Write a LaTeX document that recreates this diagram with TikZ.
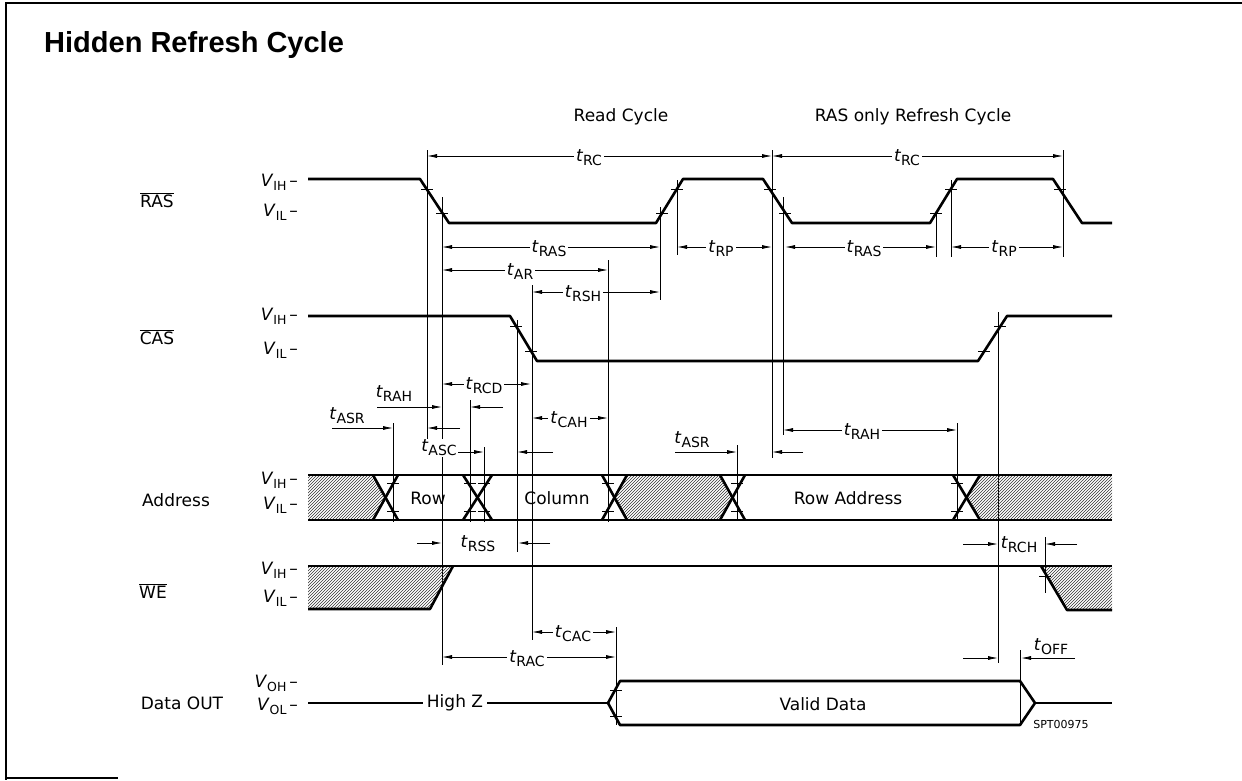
\documentclass[tikz,border=0pt]{standalone}
\usepackage{fontspec}
\setmainfont{DejaVu Sans}
\newfontfamily\titlefont{Liberation Sans}
\usetikzlibrary{arrows.meta, patterns}

% timing symbols
\newcommand{\tsub}[1]{\textit{t}\raisebox{-4pt}{\fontsize{14}{14}\selectfont #1}}
\newcommand{\vsub}[1]{\textit{V}\raisebox{-4pt}{\fontsize{12.5}{12.5}\selectfont #1}\,--}
\newcommand{\ovl}[1]{$\overline{\hbox{#1}}$}

% dimension line with label on it: y, from, to, label x, text
\newcommand{\tdim}[5]{%
  \draw[dim, <->] (#2,#1) -- (#3,#1);
  \node[tlbl] (t-#5-#4) at (#4,#1) {\tsub{#5}};
}

\tikzset{
  sig/.style={line width=2.6pt, line join=round},
  dim/.style={line width=0.8pt},
  ref/.style={line width=1pt},
  hatch/.style={pattern=north east lines, pattern color=black!80},
  lbl/.style={font=\fontsize{17}{17}\selectfont, inner sep=1pt},
  tlbl/.style={lbl, fill=white, inner sep=2pt, yshift=-2pt},
  lvl/.style={font=\fontsize{17}{17}\selectfont, anchor=east, inner sep=0pt},
}

\begin{document}
\begin{tikzpicture}[x=1pt, y=-1pt, >={Latex[length=10pt,width=4pt]}]
  \useasboundingbox (0,0) rectangle (1242,780);

  % Frame and title
  \draw[line width=1.2pt] (1242,3) -- (6,3) -- (6,780);
  \draw[line width=1.2pt] (6,778) -- (118,778);
  \node[font=\titlefont\bfseries\fontsize{29}{29}\selectfont, anchor=west, inner sep=0pt]
    (title) at (44,45) {Hidden Refresh Cycle};

  % Cycle headers
  \node[lbl] (readcyc) at (621,117) {Read Cycle};
  \node[lbl] (refcyc) at (913,117) {RAS only Refresh Cycle};

  % Signal names
  \node[lbl] (nras) at (157,200) {\ovl{RAS}};
  \node[lbl] (ncas) at (157,337) {\ovl{CAS}};
  \node[lbl] (naddr) at (176,500) {Address};
  \node[lbl] (nwe) at (153,591) {\ovl{WE}};
  \node[lbl] (ndout) at (182,703) {Data OUT};

  % Levels
  \foreach \y/\v [count=\k] in {182/IH, 212/IL, 316/IH, 350/IL, 480/IH, 505/IL,
                               570/IH, 598/IL, 683/OH, 706/OL} {
    \node[lvl] (lev\k) at (298,\y) {\vsub{\v}};
  }

  % Reference lines
  \foreach \x/\a/\b in {427/150/445, 442/197/665, 393/423/522, 470/400/522,
                        484/447/522, 517/320/552, 532/285/640, 608/260/522,
                        660/207/300, 677/180/255, 772/150/458, 783/197/435,
                        737/445/520, 936/213/257, 951/180/257, 1063/150/257,
                        957/423/520, 998/312/663, 1045/537/593, 1020/650/725,
                        616/627/725} {
    \draw[ref] (\x,\a) -- (\x,\b);
  }

  % RAS
  \draw[sig] (308,179) -- (420,179) -- (449,223) -- (656,223) -- (683,179)
    -- (763,179) -- (792,223) -- (930,223) -- (957,179) -- (1053,179)
    -- (1082,223) -- (1112,223);

  % CAS
  \draw[sig] (308,316) -- (510,316) -- (537,361) -- (978,361) -- (1007,316)
    -- (1112,316);

  % Address
  \fill[hatch] (308,475) -- (373,475) -- (385.5,497.5) -- (373,520) -- (308,520) -- cycle;
  \fill[hatch] (627,475) -- (720,475) -- (732.5,497.5) -- (720,520) -- (627,520)
    -- (614.5,497.5) -- cycle;
  \fill[hatch] (980,475) -- (1112,475) -- (1112,520) -- (980,520) -- (967.5,497.5) -- cycle;
  \draw[sig] (308,475) -- (1112,475);
  \draw[sig] (308,520) -- (1112,520);
  \foreach \a/\b in {373/398, 463/492, 602/627, 720/745, 953/980} {
    \draw[sig] (\a,475) -- (\b,520);
    \draw[sig] (\a,520) -- (\b,475);
  }
  \node[lbl] (row) at (428,498) {Row};
  \node[lbl] (col) at (557,498) {Column};
  \node[lbl] (rowaddr) at (848,498) {Row Address};

  % WE
  \fill[hatch] (308,566) -- (453,566) -- (430,609) -- (308,609) -- cycle;
  \fill[hatch] (1041,566) -- (1112,566) -- (1112,610) -- (1067,610) -- cycle;
  \draw[sig] (308,566) -- (1112,566);
  \draw[sig] (308,609) -- (430,609) -- (453,566);
  \draw[sig] (1041,566) -- (1067,610) -- (1112,610);

  % Data OUT
  \draw[sig] (308,703) -- (608,703);
  \node[lbl, fill=white, inner sep=4pt] (highz) at (455,703) {High Z};
  \draw[sig] (620,681) -- (1020,681) -- (1035,703) -- (1020,725) -- (620,725)
    -- (608,703) -- cycle;
  \draw[sig] (1035,703) -- (1112,703);
  \node[lbl] (valid) at (823,704) {Valid Data};
  \node[font=\fontsize{11}{11}\selectfont, inner sep=0pt] (code) at (1061,724) {SPT00975};

  % Crossing ticks
  \foreach \x/\y in {427/189, 442/213, 662/213, 677/189, 770/189, 785/213,
                     936/213, 951/189, 1060/189, 516/326, 531/351, 984/351,
                     1000/326, 393/483, 393/511, 470/483, 470/511, 484/483,
                     484/511, 608/483, 608/511, 737/483, 737/511, 957/483,
                     957/511, 1045/576, 616/690, 616/716} {
    \draw[ref] (\x-6,\y) -- (\x+6,\y);
  }

  % Timing with label on the line
  \tdim{156}{427}{772}{589}{RC}
  \tdim{156}{772}{1063}{907}{RC}
  \tdim{247}{442}{660}{549}{RAS}
  \tdim{247}{677}{772}{721}{RP}
  \tdim{247}{785}{936}{864}{RAS}
  \tdim{247}{951}{1063}{1004}{RP}
  \tdim{270}{442}{608}{520}{AR}
  \tdim{292}{532}{660}{583}{RSH}
  \tdim{384}{442}{531}{484}{RCD}
  \tdim{418}{532}{608}{569}{CAH}
  \tdim{430}{783}{957}{862}{RAH}
  \tdim{632}{532}{616}{573}{CAC}
  \tdim{657}{442}{616}{527}{RAC}

  % Timing with arrows from outside
  \foreach \y/\a/\b/\c/\d in {407/377/442/503/470, 428/332/393/460/427,
                              452/455/484/553/517, 452/675/737/803/772,
                              543/417/442/550/518, 544/963/998/1077/1045,
                              658/963/998/1075/1021} {
    \draw[dim, ->] (\a,\y) -- (\b,\y);
    \draw[dim, ->] (\c,\y) -- (\d,\y);
  }
  \node[lbl] (trah) at (394,394) {\tsub{RAH}};
  \node[lbl] (tasr) at (347,416) {\tsub{ASR}};
  \node[lbl, fill=white] (tasc) at (439,448) {\tsub{ASC}};
  \node[lbl] (tasr2) at (692,440) {\tsub{ASR}};
  \node[lbl] (trss) at (478,544) {\tsub{RSS}};
  \node[lbl] (trch) at (1019,545) {\tsub{RCH}};
  \node[lbl] (toff) at (1051,647) {\tsub{OFF}};
\end{tikzpicture}
\end{document}
